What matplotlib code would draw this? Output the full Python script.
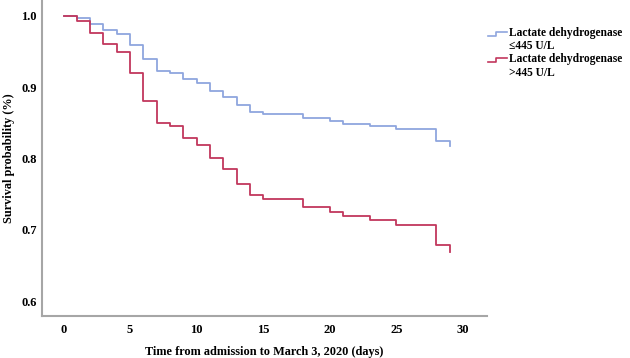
import matplotlib
matplotlib.use("Agg")
import matplotlib.pyplot as plt
from matplotlib.lines import Line2D
from matplotlib.legend_handler import HandlerBase

plt.rcParams['font.family'] = ['Liberation Serif', 'DejaVu Serif']
plt.rcParams['font.weight'] = 'bold'

# step times (days) and survival after each step
low_times = [0, 1, 2, 3, 4, 5, 6, 7, 8, 9, 10, 11, 12, 13, 14, 15, 18, 20, 21, 23, 25, 28, 29]
low_surv = [1.0, 0.997, 0.988, 0.980, 0.974, 0.959, 0.939, 0.923, 0.920, 0.911, 0.906,
            0.895, 0.886, 0.875, 0.865, 0.862, 0.856, 0.852, 0.848, 0.845, 0.841, 0.824, 0.818]
high_times = [0, 1, 2, 3, 4, 5, 6, 7, 8, 9, 10, 11, 12, 13, 14, 15, 18, 20, 21, 23, 25, 28, 29]
high_surv = [1.0, 0.993, 0.976, 0.961, 0.949, 0.919, 0.881, 0.850, 0.846, 0.829, 0.819,
             0.800, 0.785, 0.764, 0.749, 0.743, 0.732, 0.725, 0.719, 0.713, 0.707, 0.679, 0.669]

labels = ["Lactate dehydrogenase\n\u2264445 U/L", "Lactate dehydrogenase\n>445 U/L"]
colors = ["#8fa6de", "#c2375d"]
xticks = [0, 5, 10, 15, 20, 25, 30]
yticks = [0.6, 0.7, 0.8, 0.9, 1.0]


class StepHandler(HandlerBase):
    # little step icon like the SPSS legend, sitting next to the first text line
    def create_artists(self, legend, orig_handle, xdescent, ydescent,
                       width, height, fontsize, trans):
        x0 = -xdescent
        y0 = -ydescent + height * 0.5 + fontsize * 0.45
        xs = [x0, x0 + width * 0.45, x0 + width * 0.45, x0 + width]
        ys = [y0 - height * 0.15, y0 - height * 0.15, y0 + height * 0.35, y0 + height * 0.35]
        ln = Line2D(xs, ys, color=orig_handle.get_color(), lw=1.2, transform=trans)
        return [ln]


fig = plt.figure(figsize=(6.3, 3.58), dpi=100)
ax = fig.add_axes([0.067, 0.117, 0.706, 0.883])

handles = []
for t, s, c in zip([low_times, high_times], [low_surv, high_surv], colors):
    ax.step(t, s, where='post', color=c, lw=1.3)
    h, = ax.plot([], [], color=c)
    handles.append(h)

ax.set_xlim(-1.6, 31.8)
ax.set_ylim(0.579, 1.022)
ax.set_xticks(xticks)
ax.set_yticks(yticks)
ax.set_yticklabels(["%.1f" % v for v in yticks])
ax.tick_params(length=0, labelsize=9)
ax.tick_params(axis='x', pad=6)
ax.tick_params(axis='y', pad=4)
for lab in ax.get_xticklabels() + ax.get_yticklabels():
    lab.set_fontweight('bold')

for side in ['top', 'right']:
    ax.spines[side].set_visible(False)
for side in ['left', 'bottom']:
    ax.spines[side].set_color('#a6a6a6')
    ax.spines[side].set_linewidth(1.5)

ax.set_xlabel("Time from admission to March 3, 2020 (days)", fontsize=8.8,
              fontweight='bold', va='center')
ax.xaxis.set_label_coords(0.5, -0.114)
ax.set_ylabel("Survival probability (%)", fontsize=8.8, fontweight='bold', va='center')
ax.yaxis.set_label_coords(-0.075, 0.5)

fig.legend(handles, labels, loc='upper left', bbox_to_anchor=(0.762, 0.948),
           frameon=False, handler_map={Line2D: StepHandler()}, handlelength=1.6,
           handletextpad=0.2, labelspacing=0.05, borderpad=0.2,
           prop={'weight': 'bold', 'size': 8.3})

fig.savefig("out.png", dpi=100)
